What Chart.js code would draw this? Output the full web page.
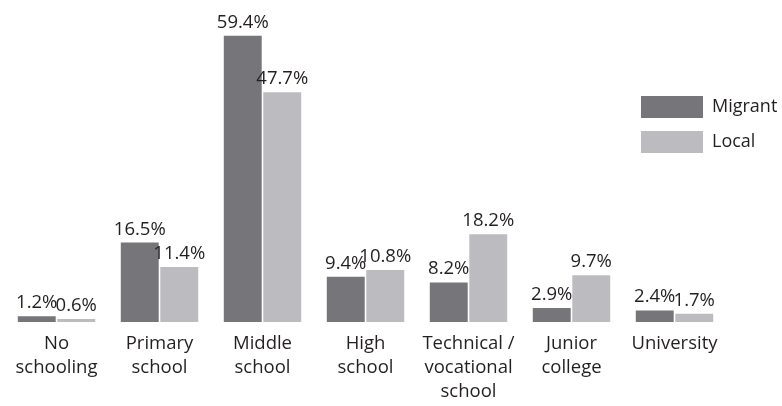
<!DOCTYPE html>
<html>
<head>
<meta charset="utf-8">
<script src="https://cdn.jsdelivr.net/npm/chart.js@4"></script>
<style>
  html, body { margin: 0; padding: 0; background: #fff; overflow: hidden; }
  #wrap { width: 782px; height: 406px; position: relative; }
</style>
</head>
<body>
<div id="wrap"><canvas id="chart" width="782" height="406"></canvas></div>
<script>
// ─── Data ────────────────────────────────────────────────────────
const categories = [
  ['No', 'schooling'],
  ['Primary', 'school'],
  ['Middle', 'school'],
  ['High', 'school'],
  ['Technical /', 'vocational', 'school'],
  ['Junior', 'college'],
  ['University']
];
const migrant = [1.2, 16.5, 59.4, 9.4, 8.2, 2.9, 2.4];
const local   = [0.6, 11.4, 47.7, 10.8, 18.2, 9.7, 1.7];

const FONT = '"Open Sans", "DejaVu Sans", sans-serif';
const TEXT = '#231f20';
const DARK = '#76767a';
const LIGHT = '#bcbcc0';

// value labels above each bar
const valueLabels = {
  id: 'valueLabels',
  afterDatasetsDraw(chart) {
    const ctx = chart.ctx;
    ctx.save();
    ctx.font = `18.5px ${FONT}`;
    ctx.fillStyle = TEXT;
    ctx.textAlign = 'center';
    ctx.textBaseline = 'alphabetic';
    chart.data.datasets.forEach((ds, i) => {
      chart.getDatasetMeta(i).data.forEach((bar, j) => {
        ctx.fillText(ds.data[j].toFixed(1) + '%', bar.x, bar.y - 8);
      });
    });
    ctx.restore();
  }
};

// legend on the right
const sideLegend = {
  id: 'sideLegend',
  afterDraw(chart) {
    const ctx = chart.ctx;
    ctx.save();
    ctx.font = `18px ${FONT}`;
    ctx.textBaseline = 'middle';
    ctx.textAlign = 'left';
    chart.data.datasets.forEach((ds, i) => {
      const y = 96 + i * 35;
      ctx.fillStyle = ds.backgroundColor;
      ctx.fillRect(641, y, 62, 22);
      ctx.fillStyle = TEXT;
      ctx.fillText(ds.label, 712, y + 11);
    });
    ctx.restore();
  }
};

new Chart(document.getElementById('chart'), {
  type: 'bar',
  data: {
    labels: categories,
    datasets: [
      { label: 'Migrant', data: migrant, backgroundColor: DARK },
      { label: 'Local',   data: local,   backgroundColor: LIGHT }
    ]
  },
  options: {
    responsive: false,
    animation: false,
    devicePixelRatio: 1,
    layout: { padding: { left: 5, right: 56, top: 4, bottom: 0 } },
    datasets: { bar: { categoryPercentage: 0.767, barPercentage: 0.96 } },
    plugins: { legend: { display: false }, tooltip: { enabled: false } },
    scales: {
      x: {
        grid: { display: false, drawTicks: false },
        border: { display: false },
        ticks: {
          color: TEXT,
          padding: 10,
          maxRotation: 0,
          autoSkip: false,
          font: { family: FONT, size: 18.5, lineHeight: 1.3 }
        },
        afterFit: s => { s.height = 84; }
      },
      y: { display: false, min: 0, max: 66 }
    }
  },
  plugins: [valueLabels, sideLegend]
});
</script>
</body>
</html>
